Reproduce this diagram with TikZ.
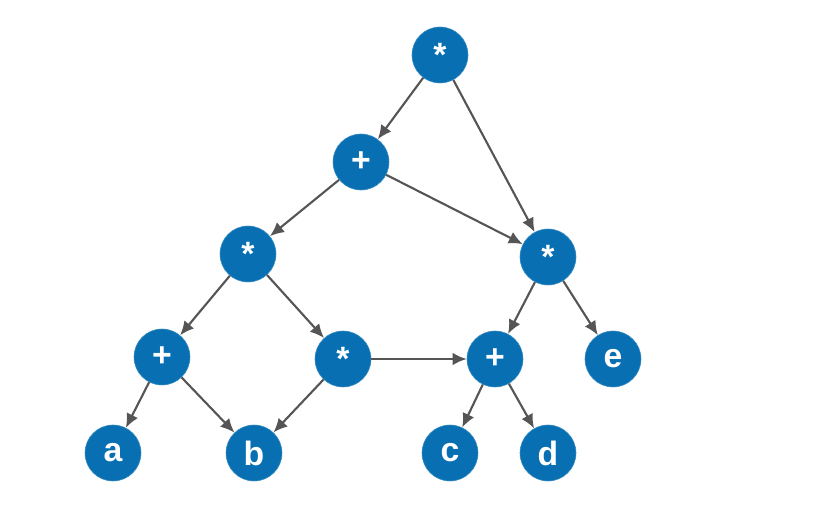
\documentclass[tikz,border=0pt]{standalone}
\usepackage{fontspec}
\setmainfont{Liberation Sans}
\usepackage{xcolor}
\usetikzlibrary{arrows.meta}

\definecolor{opblue}{RGB}{8,112,178}
\definecolor{edgegray}{RGB}{85,85,85}

\begin{document}
\begin{tikzpicture}[
    op/.style={circle, fill=opblue, draw=opblue!80!white, minimum size=1.4cm,
      inner sep=0pt, text=white, font=\fontsize{24}{26}\selectfont\bfseries},
    edge/.style={draw=edgegray, line width=1.5pt, -{Latex[length=10pt,width=9pt]}}]
  \useasboundingbox (0,0) rectangle (20.4,12.925);

  \node (root)  [op] at (11.0,11.55)   {*};
  \node (sum)   [op] at (9.025,8.875)  {+};
  \node (prodR) [op] at (13.7,6.5)     {*};
  \node (prodL) [op] at (6.2,6.575)    {*};
  \node (sumL)  [op] at (4.05,4.0)     {+};
  \node (prodM) [op] at (8.575,3.95)   {*};
  \node (sumR)  [op] at (12.375,3.95)  {+};
  \node (e)     [op] at (15.325,3.95)  {e};
  \node (a)     [op] at (2.825,1.6)    {a};
  \node (b)     [op] at (6.35,1.6)     {b};
  \node (c)     [op] at (11.25,1.6)    {c};
  \node (d)     [op] at (13.7,1.6)     {d};

  \draw[edge] (root) -- (sum);
  \draw[edge] (root) -- (prodR);
  \draw[edge] (sum) -- (prodL);
  \draw[edge] (sum) -- (prodR);
  \draw[edge] (prodL) -- (sumL);
  \draw[edge] (prodL) -- (prodM);
  \draw[edge] (sumL) -- (a);
  \draw[edge] (sumL) -- (b);
  \draw[edge] (prodM) -- (b);
  \draw[edge] (prodM) -- (sumR);
  \draw[edge] (prodR) -- (sumR);
  \draw[edge] (prodR) -- (e);
  \draw[edge] (sumR) -- (c);
  \draw[edge] (sumR) -- (d);
\end{tikzpicture}
\end{document}
